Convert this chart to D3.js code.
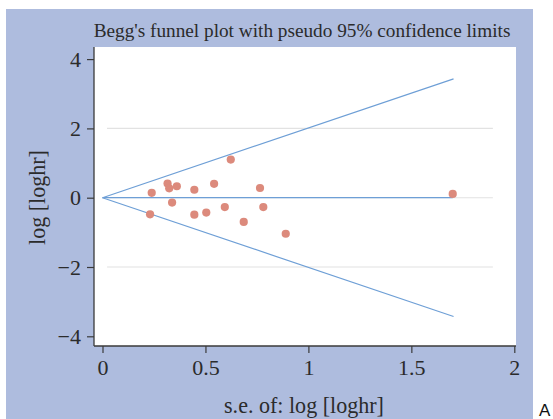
<!DOCTYPE html>
<html>
<head>
<meta charset="utf-8">
<script src="https://cdn.jsdelivr.net/npm/d3@7"></script>
<style>
  html, body { margin: 0; padding: 0; background: #ffffff; }
  svg { display: block; }
</style>
</head>
<body>
<svg id="chart" width="553" height="419"></svg>
<script>
// Study-level estimates: standard error of log HR and log HR
const seValues = [0.623, 0.239, 0.316, 0.324, 0.361, 0.446, 0.542, 0.765, 0.338,
                  0.231, 0.446, 0.504, 0.594, 0.781, 0.686, 0.890, 1.701];
const logHR    = [1.10, 0.14, 0.41, 0.27, 0.33, 0.23, 0.40, 0.28, -0.14,
                  -0.48, -0.49, -0.43, -0.27, -0.27, -0.70, -1.04, 0.11];

// Pseudo 95% confidence limits (apex and far end) and pooled estimate line
const funnelSE    = [0, 1.705];
const upperLimit  = [0, 3.43];
const lowerLimit  = [0, -3.43];
const pooledSE    = [0, 1.701];
const pooledValue = [0, 0];

// Axis ticks and labels
const xTicks = [0, 0.5, 1, 1.5, 2];
const xTickLabels = ["0", "0.5", "1", "1.5", "2"];
const yTicks = [-4, -2, 0, 2, 4];
const yTickLabels = ["\u22124", "\u22122", "0", "2", "4"];
const gridValues = [-2, 0, 2];
const titleText = "Begg's funnel plot with pseudo 95% confidence limits";
const xTitle = "s.e. of: log [loghr]";
const yTitle = "log [loghr]";
const panelLabel = "A";

const svg = d3.select("#chart");
const serif = "'Liberation Serif', 'Times New Roman', serif";
const ink = "#2b2b2b";

// Size a text so that it spans the given width
function fitWidth(sel, width) {
  sel.attr("font-size", 20);
  const w = sel.node().getComputedTextLength();
  sel.attr("font-size", 20 * width / w);
  return sel;
}

// Outer graph region
svg.append("rect")
  .attr("x", 6).attr("y", 9).attr("width", 527).attr("height", 410)
  .attr("fill", "#aebcde");

// Plot region
const plot = { left: 94, right: 516, top: 47, bottom: 346 };
svg.append("rect")
  .attr("x", plot.left).attr("y", plot.top)
  .attr("width", plot.right - plot.left).attr("height", plot.bottom - plot.top)
  .attr("fill", "#ffffff");

const x = d3.scaleLinear().domain([0, 2]).range([102.5, 514.3]);
const y = d3.scaleLinear().domain([-4, 4]).range([336.3, 59.1]);

// Horizontal gridlines
svg.append("g").selectAll("line")
  .data(gridValues).join("line")
  .attr("x1", x(0.022)).attr("x2", x(1.896))
  .attr("y1", d => y(d)).attr("y2", d => y(d))
  .attr("stroke", "#e2e2e2").attr("stroke-width", 1.1);

// Funnel limits and pooled line
const line = d3.line().x(d => x(d[0])).y(d => y(d[1]));
const lineColor = "#6e9fd6";
[d3.zip(funnelSE, upperLimit), d3.zip(funnelSE, lowerLimit), d3.zip(pooledSE, pooledValue)]
  .forEach(pts => {
    svg.append("path").datum(pts)
      .attr("d", line)
      .attr("fill", "none")
      .attr("stroke", lineColor)
      .attr("stroke-width", 1.2);
  });

// Study points
svg.append("g").selectAll("circle")
  .data(d3.zip(seValues, logHR)).join("circle")
  .attr("cx", d => x(d[0])).attr("cy", d => y(d[1]))
  .attr("r", 4.1)
  .attr("fill", "#dc8a7c");

// Y axis
const yAxis = d3.axisLeft(y)
  .tickValues(yTicks)
  .tickFormat((d, i) => yTickLabels[i])
  .tickSize(7).tickPadding(6);
const gy = svg.append("g").attr("transform", `translate(${plot.left},0)`).call(yAxis);
gy.select(".domain").remove();
gy.append("line")
  .attr("x1", 0).attr("x2", 0).attr("y1", plot.top).attr("y2", plot.bottom)
  .attr("stroke", "#3a3a3a").attr("stroke-width", 1.3);
gy.selectAll(".tick line").attr("stroke", "#3a3a3a").attr("stroke-width", 1.2);
gy.selectAll(".tick text")
  .attr("font-family", serif).attr("font-size", 22).attr("fill", ink)
  .attr("dy", "0.33em");

// X axis
const xAxis = d3.axisBottom(x)
  .tickValues(xTicks)
  .tickFormat((d, i) => xTickLabels[i])
  .tickSize(7).tickPadding(7);
const gx = svg.append("g").attr("transform", `translate(0,${plot.bottom})`).call(xAxis);
gx.select(".domain").remove();
gx.append("line")
  .attr("x1", plot.left).attr("x2", plot.right).attr("y1", 0).attr("y2", 0)
  .attr("stroke", "#3a3a3a").attr("stroke-width", 1.3);
gx.selectAll(".tick line").attr("stroke", "#3a3a3a").attr("stroke-width", 1.2);
gx.selectAll(".tick text")
  .attr("font-family", serif).attr("font-size", 22).attr("fill", ink)
  .attr("dy", 0).attr("y", 29);

// Titles
fitWidth(svg.append("text")
  .attr("x", 302).attr("y", 37)
  .attr("text-anchor", "middle")
  .attr("font-family", serif).attr("fill", ink)
  .text(titleText), 417);

fitWidth(svg.append("text")
  .attr("x", 304).attr("y", 413)
  .attr("text-anchor", "middle")
  .attr("font-family", serif).attr("fill", ink)
  .text(xTitle), 160);

fitWidth(svg.append("text")
  .attr("transform", "translate(45,197.5) rotate(-90)")
  .attr("text-anchor", "middle")
  .attr("font-family", serif).attr("fill", ink)
  .text(yTitle), 95);

// Panel label
svg.append("text")
  .attr("x", 539).attr("y", 416)
  .attr("font-family", "'Liberation Sans', Arial, sans-serif")
  .attr("font-size", 17).attr("fill", "#111")
  .text(panelLabel);
</script>
</body>
</html>
